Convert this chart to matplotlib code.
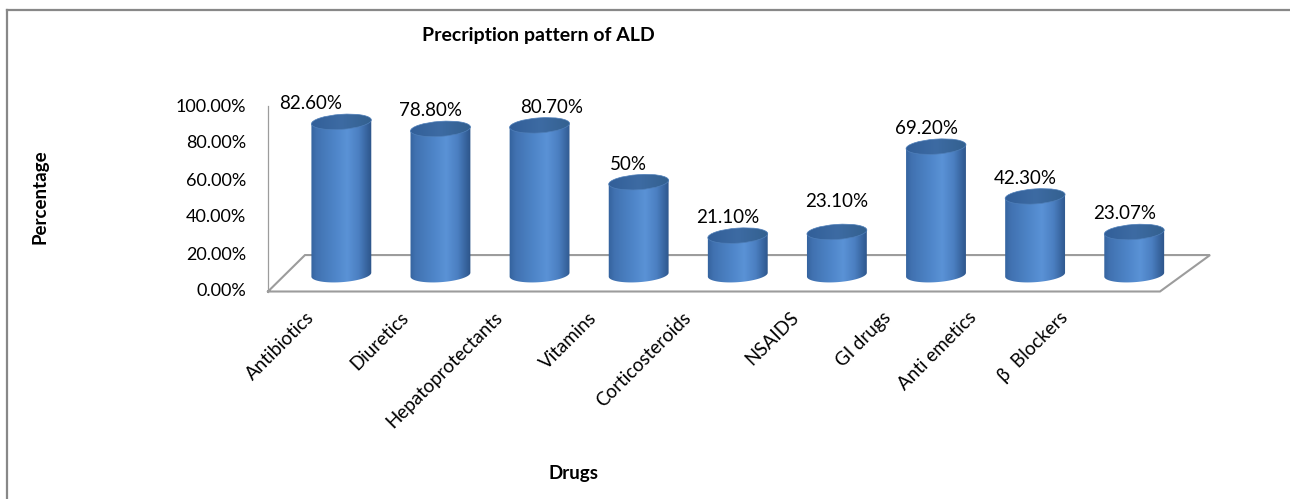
import numpy as np
import matplotlib
matplotlib.use("Agg")
import matplotlib.pyplot as plt
from matplotlib.patches import Ellipse, PathPatch
from matplotlib.path import Path
from matplotlib.lines import Line2D
from matplotlib.transforms import ScaledTranslation
from matplotlib.colors import LinearSegmentedColormap

# ---- data -------------------------------------------------------------
categories = ["Antibiotics", "Diuretics", "Hepatoprotectants", "Vitamins",
              "Corticosteroids", "NSAIDS", "GI drugs", "Anti emetics",
              "\u03b2  Blockers"]
values = [82.6, 78.8, 80.7, 50.0, 21.1, 23.1, 69.2, 42.3, 23.07]
value_labels = ["82.60%", "78.80%", "80.70%", "50%", "21.10%", "23.10%",
                "69.20%", "42.30%", "23.07%"]
y_ticks = [0, 20, 40, 60, 80, 100]

title = "Precription pattern of ALD"
x_title = "Drugs"
y_title = "Percentage"

# ---- layout -----------------------------------------------------------
W, H, DPI = 1290, 499, 100
FONT = "Lato"
plt.rcParams["font.family"] = [FONT, "DejaVu Sans"]

X0_PX, Y0_PX = 268, 291.5      # front-left corner of the floor (px from top-left)
UNIT_X, UNIT_Y = 99.11, 1.85    # px per category / px per percent
DEPTH_Y = 19.7                  # floor depth, vertical component (percent units)
DEPTH_XL, DEPTH_XR = 0.373, 0.505  # floor depth, horizontal component at left/right
BAR_SHIFT, BAR_BASE = 0.24, 9.1    # cylinders stand half-way into the floor
R_PX, E_PX, TILT = 30, 7.5, 4      # cylinder radius, ellipse half-height, tilt (deg)

GRID = "#9c9c9c"
BORDER = "#888888"

fig = plt.figure(figsize=(W / DPI, H / DPI), dpi=DPI)
fig.patch.set_facecolor("white")
ax = fig.add_axes([0, 0, 1, 1])
ax.set_axis_off()
xlim = (-X0_PX / UNIT_X, (W - X0_PX) / UNIT_X)
ylim = (-(H - Y0_PX) / UNIT_Y, Y0_PX / UNIT_Y)
ax.set_xlim(*xlim)
ax.set_ylim(*ylim)
ax.set_autoscale_on(False)

n = len(categories)

# chart-area border (top and left edges)
fig.add_artist(Line2D([6.5 / W, 1.0], [1 - 10 / H, 1 - 10 / H],
                      transform=fig.transFigure, color=BORDER, lw=1.6))
fig.add_artist(Line2D([6.5 / W, 6.5 / W], [0.0, 1 - 10 / H],
                      transform=fig.transFigure, color=BORDER, lw=1.6))

# floor of the 3-D plot and the value axis
floor_x = [0, n, n + DEPTH_XR, DEPTH_XL, 0]
floor_y = [0, 0, DEPTH_Y, DEPTH_Y, 0]
ax.plot(floor_x, floor_y, color=GRID, lw=1.5, zorder=1, solid_joinstyle="miter")
ax.plot([0, 0], [0, y_ticks[-1]], color=GRID, lw=0.9, zorder=1)

for t in y_ticks:
    ax.annotate(f"{t:.2f}%", (0, t), xytext=(-22, 0), textcoords="offset pixels",
                ha="right", va="center", fontsize=13, color="black")

# ---- cylinders ----------------------------------------------------------
body_cmap = LinearSegmentedColormap.from_list(
    "body", [(0.0, "#315f99"), (0.12, "#4172b1"), (0.40, "#4e85c8"),
             (0.60, "#5a92d6"), (0.78, "#4b7fc1"), (0.92, "#35619a"),
             (1.0, "#2a5083")])
top_cmap = LinearSegmentedColormap.from_list(
    "top", [(0.0, "#315e98"), (0.5, "#3d6ba3"), (1.0, "#33608e")])
grad = np.linspace(0, 1, 256)[None, :]

th = np.deg2rad(TILT)
tt = np.linspace(np.pi, 2 * np.pi, 80)
ex, ey = R_PX * np.cos(tt), E_PX * np.sin(tt)
arc_x = ex * np.cos(th) - ey * np.sin(th)
arc_y = ex * np.sin(th) + ey * np.cos(th)

half_w = (R_PX + 2) / UNIT_X
for i, v in enumerate(values):
    xc = i + 0.5 + BAR_SHIFT
    yb, yt = BAR_BASE, BAR_BASE + v
    h_px = ax.transData.transform((xc, yt))[1] - ax.transData.transform((xc, yb))[1]

    verts = ([(arc_x[0], arc_y[0] + h_px)] + list(zip(arc_x, arc_y))
             + [(arc_x[-1], arc_y[-1] + h_px), (arc_x[0], arc_y[0] + h_px)])
    codes = [Path.MOVETO] + [Path.LINETO] * (len(verts) - 2) + [Path.CLOSEPOLY]
    body = PathPatch(Path(verts, codes),
                     transform=ScaledTranslation(xc, yb, ax.transData),
                     facecolor="none", edgecolor="none")
    im = ax.imshow(grad, cmap=body_cmap, aspect="auto", interpolation="bicubic",
                   extent=(xc - half_w, xc + half_w,
                           yb - (E_PX + R_PX * np.sin(th) + 3) / UNIT_Y,
                           yt + (R_PX * np.sin(th) + 3) / UNIT_Y),
                   zorder=2 + i)
    im.set_clip_path(body)

    top = Ellipse((0, 0), 2 * R_PX, 2 * E_PX, angle=TILT,
                  transform=ScaledTranslation(xc, yt, ax.transData),
                  facecolor="none", edgecolor="none")
    imt = ax.imshow(grad, cmap=top_cmap, aspect="auto", interpolation="bicubic",
                    extent=(xc - half_w, xc + half_w,
                            yt - (E_PX + R_PX * np.sin(th) + 3) / UNIT_Y,
                            yt + (E_PX + R_PX * np.sin(th) + 3) / UNIT_Y),
                    zorder=2.5 + i)
    imt.set_clip_path(top)
    ax.add_patch(Ellipse((0, 0), 2 * R_PX, 2 * E_PX, angle=TILT,
                         transform=ScaledTranslation(xc, yt, ax.transData),
                         facecolor="none", edgecolor="#4f7fb9", lw=0.5,
                         zorder=2.6 + i))

# ---- value labels -------------------------------------------------------
label_nudge = [(-21, 0), (0, 0), (22, 0), (0, 0), (0, 0), (10, 12), (0, 0), (0, 0), (0, 0)]
for i, (v, lab) in enumerate(zip(values, value_labels)):
    xc = i + 0.5 + BAR_SHIFT
    dx, dy = label_nudge[i]
    ax.annotate(lab, (xc, BAR_BASE + v), xytext=(-10 + dx, 18 + dy),
                textcoords="offset pixels", ha="center", va="center",
                fontsize=13.5, color="black", zorder=20)

# ---- category labels ----------------------------------------------------
xtick_nudge = [0, 0, 0, 0, 0, 14, 12, 3, 0]
for i, cat in enumerate(categories):
    ax.annotate(cat, (i + 0.5, 0), xytext=(-12.5 - 4.86 * i + xtick_nudge[i], -17.5),
                textcoords="offset pixels", ha="right", va="top", rotation=45,
                rotation_mode="anchor", fontsize=13.5, color="black")

# ---- titles -------------------------------------------------------------
fig.text(538 / W, 1 - 35 / H, title, ha="center", va="center",
         fontsize=14, fontweight="bold")
fig.text(573 / W, 1 - 473 / H, x_title, ha="center", va="center",
         fontsize=13.5, fontweight="bold")
fig.text(40 / W, 1 - 197 / H, y_title, ha="center", va="center",
         rotation=90, fontsize=13.5, fontweight="bold")

ax.set_xlim(*xlim)
ax.set_ylim(*ylim)
fig.savefig("out.png", dpi=DPI, facecolor="white")
